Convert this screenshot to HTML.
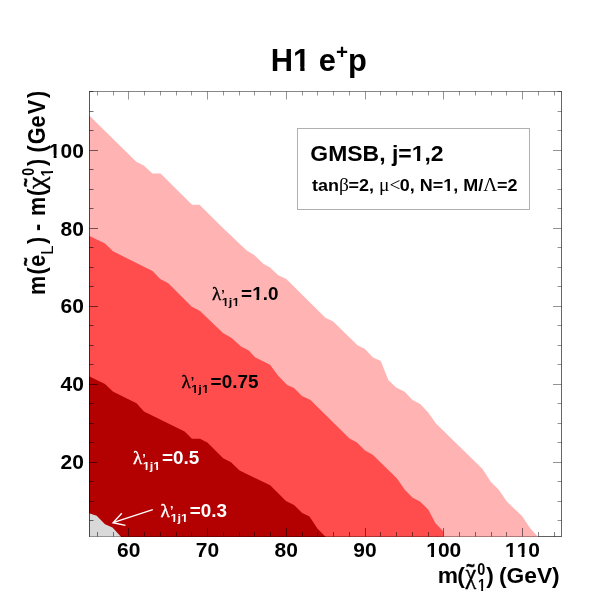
<!DOCTYPE html>
<html><head><meta charset="utf-8"><title>H1 e+p GMSB</title>
<style>
html,body{margin:0;padding:0;background:#fff;}
body{width:600px;height:610px;overflow:hidden;}
svg{display:block;}
text{white-space:pre;}
.ss{font-family:'Liberation Sans',sans-serif;font-weight:bold;}
.sr{font-family:'Liberation Sans',sans-serif;font-weight:normal;}
.sf{font-family:'Liberation Serif',serif;font-weight:normal;}
</style></head><body>
<svg width="600" height="610" viewBox="0 0 600 610">
<defs>
<clipPath id="c1"><path clip-rule="evenodd" d="M-36.68 -26.00H45.56V12.00H-36.68ZM-16.29 -2.92H-12.02V1.60H-16.29ZM-9.27 -2.92H-5.45V1.60H-9.27Z"/></clipPath>
<clipPath id="c2"><path clip-rule="evenodd" d="M-36.68 -26.00H45.56V12.00H-36.68ZM-16.29 -2.92H-12.02V1.60H-16.29ZM-9.27 -2.92H-5.45V1.60H-9.27ZM-5.17 -2.92H-0.89V1.60H-5.17ZM1.85 -2.92H5.67V1.60H1.85Z"/></clipPath>
<clipPath id="c3"><path clip-rule="evenodd" d="M-53.37 -26.00H28.88V12.00H-53.37ZM-32.98 -2.92H-28.70V1.60H-32.98ZM-25.96 -2.92H-22.14V1.60H-25.96Z"/></clipPath>
<clipPath id="c4"><path clip-rule="evenodd" d="M-31.50 -40.95H112.02V18.90H-31.50ZM23.36 -4.60H30.10V2.52H23.36ZM34.42 -4.60H40.44V2.52H34.42Z"/></clipPath>
<clipPath id="c5"><path clip-rule="evenodd" d="M-22.50 -29.25H163.16V13.50H-22.50ZM99.83 -3.28H104.64V1.80H99.83ZM107.73 -3.28H112.03V1.80H107.73Z"/></clipPath>
<clipPath id="c6"><path clip-rule="evenodd" d="M-16.80 -21.84H106.89V10.08H-16.80ZM40.95 -2.45H44.54V1.34H40.95ZM46.85 -2.45H50.06V1.34H46.85Z"/></clipPath>
<clipPath id="c7"><path clip-rule="evenodd" d="M-11.80 -15.34H33.44V7.08H-11.80ZM0.23 -2.07H2.75V0.94H0.23ZM4.37 -2.07H6.63V0.94H4.37ZM10.07 -2.07H12.60V0.94H10.07ZM14.21 -2.07H16.47V0.94H14.21Z"/></clipPath>
<clipPath id="c8"><path clip-rule="evenodd" d="M-17.50 -22.75H59.81V10.50H-17.50ZM10.56 -2.55H14.30V1.40H10.56ZM16.71 -2.55H20.05V1.40H16.71Z"/></clipPath>
<clipPath id="c9"><path clip-rule="evenodd" d="M-11.80 -15.34H33.44V7.08H-11.80ZM0.23 -2.07H2.75V0.94H0.23ZM4.37 -2.07H6.63V0.94H4.37ZM10.07 -2.07H12.60V0.94H10.07ZM14.21 -2.07H16.47V0.94H14.21Z"/></clipPath>
<clipPath id="c10"><path clip-rule="evenodd" d="M-11.80 -15.34H33.44V7.08H-11.80ZM0.23 -2.07H2.75V0.94H0.23ZM4.37 -2.07H6.63V0.94H4.37ZM10.07 -2.07H12.60V0.94H10.07ZM14.21 -2.07H16.47V0.94H14.21Z"/></clipPath>
<clipPath id="c11"><path clip-rule="evenodd" d="M-11.80 -15.34H33.44V7.08H-11.80ZM0.23 -2.07H2.75V0.94H0.23ZM4.37 -2.07H6.63V0.94H4.37ZM10.07 -2.07H12.60V0.94H10.07ZM14.21 -2.07H16.47V0.94H14.21Z"/></clipPath>
<clipPath id="c12"><path clip-rule="evenodd" d="M-16.00 -20.80H32.00V9.60H-16.00ZM0.31 -2.34H3.73V1.28H0.31ZM5.93 -2.34H8.98V1.28H5.93Z"/></clipPath>
<clipPath id="c13"><path clip-rule="evenodd" d="M-15.90 -20.67H31.80V9.54H-15.90ZM0.31 -2.32H3.71V1.27H0.31ZM5.89 -2.32H8.93V1.27H5.89Z"/></clipPath>
</defs>
<rect width="600" height="610" fill="#fff"/>
<polygon fill="#ffb3b3" points="89.00,115.20 136.25,161.75 143.75,165.50 152.50,173.50 160.50,173.50 192.00,204.75 199.50,204.75 225.00,230.00 246.70,250.50 254.20,255.00 263.30,263.70 270.00,267.50 278.30,275.30 286.30,279.10 325.40,317.80 333.20,321.60 357.50,345.30 364.70,348.80 372.70,357.20 380.70,360.90 388.50,380.20 396.20,387.40 404.70,391.70 412.50,400.00 420.20,404.00 428.00,412.20 436.00,423.50 482.50,469.00 490.90,482.00 498.80,489.80 506.80,501.60 522.00,516.00 530.00,528.00 538.10,537.00 89.00,537.00"/>
<polygon fill="#ff4d4d" points="89.00,235.70 105.00,243.50 113.00,251.30 152.50,271.00 160.20,279.00 168.30,283.20 191.50,306.50 200.00,311.00 223.00,333.00 232.00,338.20 241.00,346.50 248.50,350.20 255.00,357.30 270.00,364.80 278.40,376.00 287.20,385.00 294.00,388.00 302.00,396.00 310.50,400.00 349.50,438.50 357.00,442.50 365.00,450.40 372.70,454.80 396.80,478.20 405.00,490.00 412.70,497.70 420.00,501.60 428.20,509.50 435.50,523.20 443.20,531.20 443.50,537.00 89.00,537.00"/>
<polygon fill="#b30000" points="89.00,376.30 105.00,384.00 112.80,391.50 136.50,403.20 144.00,411.50 184.60,431.50 192.00,438.70 200.00,438.70 207.40,442.40 223.20,458.20 231.00,462.30 239.60,470.50 270.20,485.30 286.00,501.00 294.00,505.00 302.20,513.00 309.50,516.40 317.40,528.40 325.80,537.00 89.00,537.00"/>
<polygon fill="#d9d9d9" points="89.00,513.30 96.70,515.80 105.00,524.20 112.50,527.50 121.20,537.00 89.00,537.00"/>
<path d="M97.5 536.5v-4.5M113.5 536.5v-4.5M128.5 536.5v-8.5M144.5 536.5v-4.5M160.5 536.5v-4.5M176.5 536.5v-4.5M191.5 536.5v-4.5M207.5 536.5v-8.5M223.5 536.5v-4.5M239.5 536.5v-4.5M254.5 536.5v-4.5M270.5 536.5v-4.5M286.5 536.5v-8.5M302.5 536.5v-4.5M317.5 536.5v-4.5M333.5 536.5v-4.5M349.5 536.5v-4.5M365.5 536.5v-8.5M380.5 536.5v-4.5M396.5 536.5v-4.5M412.5 536.5v-4.5M428.5 536.5v-4.5M443.5 536.5v-8.5M459.5 536.5v-4.5M475.5 536.5v-4.5M491.5 536.5v-4.5M506.5 536.5v-4.5M522.5 536.5v-8.5M538.5 536.5v-4.5M554.5 536.5v-4.5" stroke="#000" stroke-opacity="0.50" stroke-width="1" fill="none"/>
<path d="M97.5 91.5v4.0M113.5 91.5v4.0M128.5 91.5v8.0M144.5 91.5v4.0M160.5 91.5v4.0M176.5 91.5v4.0M191.5 91.5v4.0M207.5 91.5v8.0M223.5 91.5v4.0M239.5 91.5v4.0M254.5 91.5v4.0M270.5 91.5v4.0M286.5 91.5v8.0M302.5 91.5v4.0M317.5 91.5v4.0M333.5 91.5v4.0M349.5 91.5v4.0M365.5 91.5v8.0M380.5 91.5v4.0M396.5 91.5v4.0M412.5 91.5v4.0M428.5 91.5v4.0M443.5 91.5v8.0M459.5 91.5v4.0M475.5 91.5v4.0M491.5 91.5v4.0M506.5 91.5v4.0M522.5 91.5v8.0M538.5 91.5v4.0M554.5 91.5v4.0" stroke="#000" stroke-opacity="0.42" stroke-width="1" fill="none"/>
<path d="M89.5 520.5h4.0M89.5 501.5h4.0M89.5 481.5h4.0M89.5 462.5h8.5M89.5 442.5h4.0M89.5 423.5h4.0M89.5 403.5h4.0M89.5 384.5h8.5M89.5 364.5h4.0M89.5 345.5h4.0M89.5 325.5h4.0M89.5 306.5h8.5M89.5 286.5h4.0M89.5 267.5h4.0M89.5 247.5h4.0M89.5 228.5h8.5M89.5 208.5h4.0M89.5 189.5h4.0M89.5 169.5h4.0M89.5 150.5h8.5M89.5 130.5h4.0M89.5 111.5h4.0M89.5 91.5h4.0" stroke="#000" stroke-opacity="0.55" stroke-width="1" fill="none"/>
<path d="M561.5 520.5h-4.0M561.5 501.5h-4.0M561.5 481.5h-4.0M561.5 462.5h-8.5M561.5 442.5h-4.0M561.5 423.5h-4.0M561.5 403.5h-4.0M561.5 384.5h-8.5M561.5 364.5h-4.0M561.5 345.5h-4.0M561.5 325.5h-4.0M561.5 306.5h-8.5M561.5 286.5h-4.0M561.5 267.5h-4.0M561.5 247.5h-4.0M561.5 228.5h-8.5M561.5 208.5h-4.0M561.5 189.5h-4.0M561.5 169.5h-4.0M561.5 150.5h-8.5M561.5 130.5h-4.0M561.5 111.5h-4.0M561.5 91.5h-4.0" stroke="#000" stroke-opacity="0.42" stroke-width="1" fill="none"/>
<path d="M89.5 91.0V537.0" stroke="#000" stroke-opacity="0.66" stroke-width="1" fill="none"/>
<path d="M90.0 536.5H538.0" stroke="#000" stroke-opacity="0.32" stroke-width="1" fill="none"/>
<path d="M538.0 536.5H562.0" stroke="#000" stroke-opacity="0.62" stroke-width="1" fill="none"/>
<path d="M561.5 91.0V536.0" stroke="#000" stroke-opacity="0.60" stroke-width="1" fill="none"/>
<path d="M90.0 91.5H561.0" stroke="#000" stroke-opacity="0.47" stroke-width="1" fill="none"/>
<text class="ss" transform="translate(128.68,556.50) scale(1.050,1)" font-size="20.00" fill="#000" x="-11.12 0.00">60</text>
<text class="ss" transform="translate(207.44,556.50) scale(1.050,1)" font-size="20.00" fill="#000" x="-11.12 0.00">70</text>
<text class="ss" transform="translate(286.20,556.50) scale(1.050,1)" font-size="20.00" fill="#000" x="-11.12 0.00">80</text>
<text class="ss" transform="translate(364.96,556.50) scale(1.050,1)" font-size="20.00" fill="#000" x="-11.12 0.00">90</text>
<text class="ss" transform="translate(443.72,556.50) scale(1.050,1)" font-size="20.00" fill="#000" x="-16.68 -5.56 5.56" clip-path="url(#c1)">100</text>
<text class="ss" transform="translate(522.48,556.50) scale(1.050,1)" font-size="20.00" fill="#000" x="-16.68 -5.56 5.56" clip-path="url(#c2)">110</text>
<text class="ss" transform="translate(83.80,469.36) scale(1.050,1)" font-size="20.00" fill="#000" x="-22.25 -11.12">20</text>
<text class="ss" transform="translate(83.80,391.42) scale(1.050,1)" font-size="20.00" fill="#000" x="-22.25 -11.12">40</text>
<text class="ss" transform="translate(83.80,313.48) scale(1.050,1)" font-size="20.00" fill="#000" x="-22.25 -11.12">60</text>
<text class="ss" transform="translate(83.80,235.54) scale(1.050,1)" font-size="20.00" fill="#000" x="-22.25 -11.12">80</text>
<text class="ss" transform="translate(83.80,157.60) scale(1.050,1)" font-size="20.00" fill="#000" x="-33.37 -22.25 -11.12" clip-path="url(#c3)">100</text>
<text class="ss" transform="translate(270.80,71.30) scale(0.980,1)" font-size="31.50" fill="#000" x="0.00 22.75 40.27 49.02" clip-path="url(#c4)">H1 e</text>
<text class="ss" transform="translate(336.01,59.10) scale(0.980,1)" font-size="21.00" fill="#000">+</text>
<text class="ss" transform="translate(348.03,71.30) scale(0.980,1)" font-size="31.50" fill="#000">p</text>
<rect x="297.5" y="128.5" width="232" height="81" fill="#fff" stroke="#b0b0b0" stroke-width="1"/>
<text class="ss" transform="translate(310.30,160.80) scale(1.020,1)" font-size="22.50" fill="#000" x="0.00 17.50 36.24 51.25 67.50 73.75 80.00 86.25 99.39 111.91 118.16" clip-path="url(#c5)">GMSB, j=1,2</text>
<text class="ss" transform="translate(312.00,190.80) scale(1.070,1)" font-size="16.80" fill="#000" x="0.00 5.59 14.94">tan</text>
<text class="sf" transform="translate(338.96,190.80) scale(1.070,1)" font-size="18.14" fill="#000">β</text>
<text class="ss" transform="translate(348.57,190.80) scale(1.070,1)" font-size="16.80" fill="#000" x="0.00 9.81 19.15 23.82">=2, </text>
<text class="sf" transform="translate(379.05,190.80) scale(1.070,1)" font-size="18.14" fill="#000">μ&lt;</text>
<text class="ss" transform="translate(399.82,190.80) scale(1.070,1)" font-size="16.80" fill="#000" x="0.00 9.34 14.01 18.68 30.81 40.62 49.97 54.63 59.30 73.29" clip-path="url(#c6)">0, N=1, M/</text>
<text class="sf" transform="translate(483.24,190.80) scale(1.070,1)" font-size="18.14" fill="#000">Λ</text>
<text class="ss" transform="translate(496.92,190.80) scale(1.070,1)" font-size="16.80" fill="#000" x="0.00 9.81">=2</text>
<text class="sf" transform="translate(212.00,299.70)" font-size="19.00" fill="#000" stroke="#000" stroke-width="0.35">λ</text>
<text class="ss" transform="translate(221.30,298.50)" font-size="12.50" fill="#000">’</text>
<text class="ss" transform="translate(221.80,305.60) scale(1.080,1)" font-size="11.80" fill="#000" x="0.00 6.56 9.84" clip-path="url(#c7)">1j1</text>
<text class="ss" transform="translate(241.10,299.70) scale(1.080,1)" font-size="17.50" fill="#000" x="0.00 10.22 19.95 24.81" clip-path="url(#c8)">=1.0</text>
<text class="sf" transform="translate(181.50,387.50)" font-size="19.00" fill="#000" stroke="#000" stroke-width="0.35">λ</text>
<text class="ss" transform="translate(190.80,386.30)" font-size="12.50" fill="#000">’</text>
<text class="ss" transform="translate(191.30,393.40) scale(1.080,1)" font-size="11.80" fill="#000" x="0.00 6.56 9.84" clip-path="url(#c9)">1j1</text>
<text class="ss" transform="translate(210.60,387.50) scale(1.080,1)" font-size="17.50" fill="#000" x="0.00 10.22 19.95 24.81 34.55">=0.75</text>
<text class="sf" transform="translate(132.90,464.40)" font-size="19.00" fill="#fff" stroke="#fff" stroke-width="0.35">λ</text>
<text class="ss" transform="translate(142.20,463.20)" font-size="12.50" fill="#fff">’</text>
<text class="ss" transform="translate(142.70,470.30) scale(1.080,1)" font-size="11.80" fill="#fff" x="0.00 6.56 9.84" clip-path="url(#c10)">1j1</text>
<text class="ss" transform="translate(162.00,464.40) scale(1.080,1)" font-size="17.50" fill="#fff" x="0.00 10.22 19.95 24.81">=0.5</text>
<text class="sf" transform="translate(160.60,516.50)" font-size="19.00" fill="#fff" stroke="#fff" stroke-width="0.35">λ</text>
<text class="ss" transform="translate(169.90,515.30)" font-size="12.50" fill="#fff">’</text>
<text class="ss" transform="translate(170.40,522.40) scale(1.080,1)" font-size="11.80" fill="#fff" x="0.00 6.56 9.84" clip-path="url(#c11)">1j1</text>
<text class="ss" transform="translate(189.70,516.50) scale(1.080,1)" font-size="17.50" fill="#fff" x="0.00 10.22 19.95 24.81">=0.3</text>
<path d="M152.8 509.6L113 522.7M121.8 513.2L113 522.7L125.5 525.4" stroke="#fff" stroke-width="1.4" fill="none"/>
<text class="ss" transform="translate(437.70,583.00)" font-size="22.80" fill="#000" x="0.00 19.60">m(</text>
<text class="sf" transform="translate(465.40,583.00) scale(0.880,1)" font-size="27.50" fill="#000" stroke="#000" stroke-width="0.4">χ</text>
<text class="ss" transform="translate(466.30,572.00) scale(0.800,1)" font-size="18.00" fill="#000" stroke="#000" stroke-width="0.7">~</text>
<text class="ss" transform="translate(477.30,574.90) scale(0.860,1)" font-size="16.80" fill="#000" x="0.00">0</text>
<text class="ss" transform="translate(478.00,590.60) scale(0.860,1)" font-size="16.00" fill="#000" x="0.00" clip-path="url(#c12)">1</text>
<text class="ss" transform="translate(486.20,583.00)" font-size="22.80" fill="#000" x="0.00">)</text>
<text class="ss" transform="translate(498.90,583.00)" font-size="22.80" fill="#000" x="0.00 7.59 25.33 38.01 53.21">(GeV)</text>
<text class="ss" transform="translate(45.00,294.88) rotate(-90) scale(0.920,1)" font-size="23.50" fill="#000" x="0.00 22.02 30.68">m(e</text>
<text class="ss" transform="translate(31.80,265.95) rotate(-90) scale(0.800,1)" font-size="18.00" fill="#000" stroke="#000" stroke-width="0.7">~</text>
<text class="sr" transform="translate(52.90,254.70) rotate(-90)" font-size="16.60" fill="#000">L</text>
<text class="ss" transform="translate(45.00,244.05) rotate(-90) scale(0.920,1)" font-size="23.50" fill="#000" x="0.00 9.32 14.29 24.54 30.43 52.36">) - m(</text>
<text class="sf" transform="translate(44.60,188.88) rotate(-90) scale(1.150,1)" font-size="24.50" fill="#000" stroke="#000" stroke-width="0.4">χ</text>
<text class="ss" transform="translate(31.80,186.78) rotate(-90) scale(0.800,1)" font-size="18.00" fill="#000" stroke="#000" stroke-width="0.7">~</text>
<text class="ss" transform="translate(33.75,175.80) rotate(-90) scale(0.900,1)" font-size="15.90" fill="#000" x="0.00">0</text>
<text class="ss" transform="translate(52.90,176.40) rotate(-90) scale(0.900,1)" font-size="15.90" fill="#000" x="0.00" clip-path="url(#c13)">1</text>
<text class="ss" transform="translate(45.00,166.12) rotate(-90) scale(0.920,1)" font-size="23.50" fill="#000" x="0.00 9.55 14.75 23.88 41.98 56.27 73.93">) (GeV)</text>
</svg>
</body></html>
